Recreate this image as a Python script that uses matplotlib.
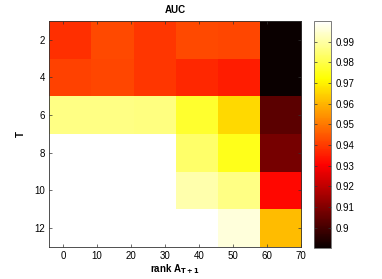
import numpy as np
import matplotlib
matplotlib.use("Agg")
import matplotlib.pyplot as plt

plt.rcParams['font.family'] = ['Liberation Sans', 'DejaVu Sans']

# AUC values, rows T = 2..12, columns rank A_{T+1}
T_values = [2, 4, 6, 8, 10, 12]
rank_edges = [-4.2, 70.2]
auc = np.array([
    [0.938, 0.9425, 0.9395, 0.9425, 0.942, 0.8905],
    [0.941, 0.942, 0.9395, 0.937, 0.935, 0.8905],
    [0.9865, 0.9865, 0.986, 0.977, 0.966, 0.904],
    [1.0, 1.0, 1.0, 0.9835, 0.9748, 0.908],
    [1.0, 1.0, 1.0, 0.991, 0.9865, 0.9315],
    [1.0, 1.0, 1.0, 1.0, 0.996, 0.9613],
])
clim = (0.8903, 1.0)
cbar_ticks = [0.90, 0.91, 0.92, 0.93, 0.94, 0.95, 0.96, 0.97, 0.98, 0.99]
cbar_labels = ['0.9', '0.91', '0.92', '0.93', '0.94', '0.95', '0.96', '0.97', '0.98', '0.99']
x_ticks = [0, 10, 20, 30, 40, 50, 60, 70]

fig = plt.figure(figsize=(3.82, 2.79), dpi=100)
ax = fig.add_axes([0.128, 0.115, 0.66, 0.81])
cax = fig.add_axes([0.822, 0.112, 0.045, 0.813])

im = ax.imshow(auc, cmap='hot', vmin=clim[0], vmax=clim[1], aspect='auto',
               interpolation='nearest',
               extent=[rank_edges[0], rank_edges[1], T_values[-1] + 1, T_values[0] - 1])
ax.set_xlim(rank_edges[0], 70)
ax.set_ylim(T_values[-1] + 1, T_values[0] - 1)
ax.set_xticks(x_ticks)
ax.set_yticks(T_values)
ax.tick_params(direction='in', length=2.5, width=0.5, labelsize=7,
               top=True, right=True, pad=3, color='#333333')
for s in ax.spines.values():
    s.set_linewidth(0.6)
    s.set_color('#333333')

ax.set_title('AUC', fontsize=7, fontweight='bold', pad=6)
ax.set_xlabel(r'rank A$_{\mathbf{T+1}}$', fontsize=7, fontweight='bold', labelpad=1)
ax.set_ylabel('T', fontsize=7, fontweight='bold', labelpad=6)

cb = fig.colorbar(im, cax=cax, ticks=cbar_ticks)
cb.ax.set_yticklabels(cbar_labels)
cb.ax.tick_params(direction='in', length=2.5, width=0.5, labelsize=7,
                  left=True, right=True, color='#333333', pad=3)
cb.outline.set_linewidth(0.6)
cb.outline.set_edgecolor('#666666')

fig.savefig('out.png', dpi=100)
